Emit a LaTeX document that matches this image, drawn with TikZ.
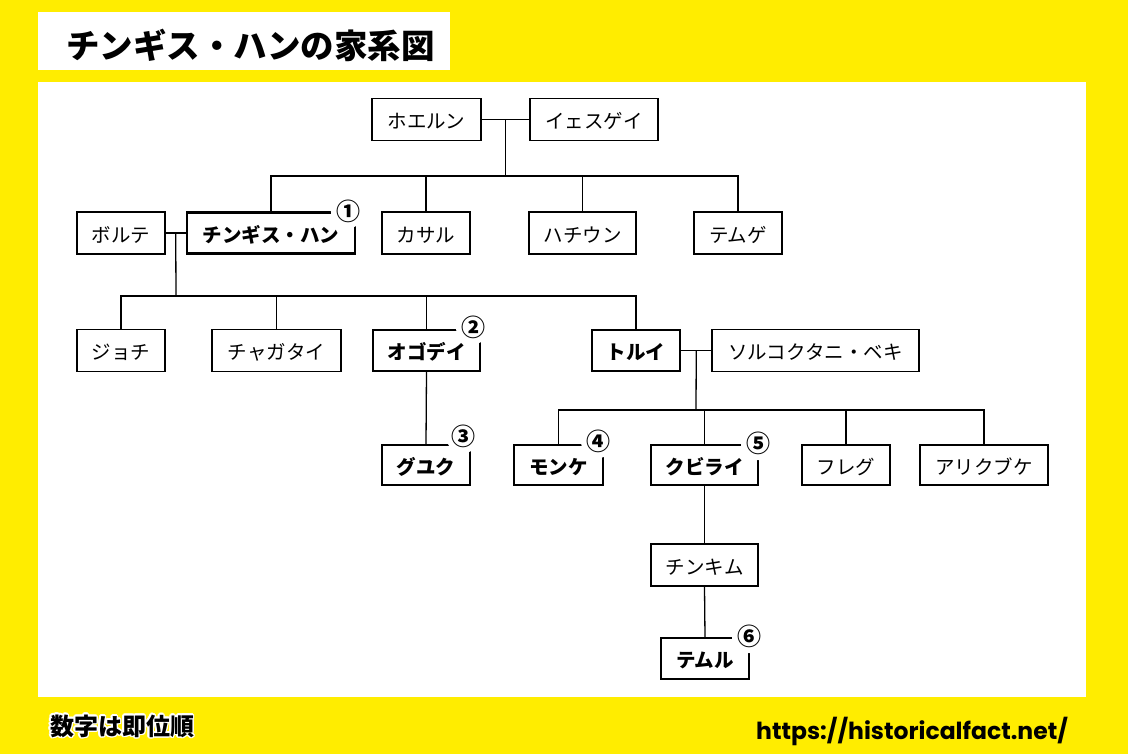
\documentclass[tikz,border=0pt]{standalone}
\usepackage{fontspec}
\usepackage{contour}
\newfontfamily\jp{Noto Sans CJK JP}
\newfontfamily\urlfont{Poppins}
\usetikzlibrary{calc}
\definecolor{ybg}{RGB}{255,237,0}
\contourlength{1.6pt}
\tikzset{
  box/.style={draw, line width=1.3pt, fill=white, inner sep=0pt, minimum height=42pt,
    text height=18.5pt, text depth=0pt,
    font=\jp\fontsize{19.5}{19.5}\selectfont},
  bbox/.style={box, line width=2.4pt, minimum height=41pt, font=\jp\bfseries\fontsize{19.5}{19.5}\selectfont},
  conn/.style={line width=1.3pt},
  circnum/.style={fill=white, inner sep=0.4pt, circle, font=\jp\bfseries\fontsize{24}{24}\selectfont}
}
\begin{document}
\begin{tikzpicture}[x=1pt,y=-1pt]
\useasboundingbox (0,0) rectangle (1128,754);
\fill[ybg] (0,0) rectangle (1128,754);
\fill[white] (38,12) rectangle (450,70);
\fill[white] (38,82) rectangle (1086,697);
\node[anchor=west, inner sep=0, font=\jp\bfseries\fontsize{33.5}{33.5}\selectfont] (title) at (66,45) {チンギス・ハンの家系図};

% generation 0
\node[box, minimum width=109pt] (hoelun) at (426.5,119.5) {ホエルン};
\node[box, minimum width=128pt] (yesugei) at (594,119.5) {イェスゲイ};
% generation 1
\node[box, minimum width=88pt] (borte) at (121,233) {ボルテ};
\node[bbox, minimum width=168pt] (chinggis) at (271,233) {チンギス・ハン};
\node[box, minimum width=88pt] (kasar) at (426,233) {カサル};
\node[box, minimum width=107pt] (hachiun) at (582.5,233) {ハチウン};
\node[box, minimum width=88pt] (temuge) at (738,233) {テムゲ};
% generation 2
\node[box, minimum width=88pt] (jochi) at (121,350.5) {ジョチ};
\node[box, minimum width=129pt] (chagatai) at (276.5,350.5) {チャガタイ};
\node[bbox, minimum width=107pt] (ogedei) at (426.5,350.5) {オゴデイ};
\node[bbox, minimum width=88pt] (tolui) at (636,350.5) {トルイ};
\node[box, minimum width=207pt] (sorghaghtani) at (815.5,350.5) {ソルコクタニ・ベキ};
% generation 3
\node[bbox, minimum width=88pt, minimum height=40pt] (guyuk) at (426,465) {グユク};
\node[bbox, minimum width=89pt, minimum height=40pt] (mongke) at (558.5,465) {モンケ};
\node[bbox, minimum width=107pt, minimum height=40pt] (kublai) at (704.5,465) {クビライ};
\node[box, minimum width=88pt, minimum height=40pt] (hulagu) at (846,465) {フレグ};
\node[box, minimum width=128pt, minimum height=40pt] (ariqboke) at (984,465) {アリクブケ};
% generation 4, 5
\node[box, minimum width=107pt] (zhenjin) at (704.5,565) {チンキム};
\node[bbox, minimum width=88pt] (temur) at (705,658.5) {テムル};

% connectors
\coordinate (m0) at ($(hoelun.east)!0.5!(yesugei.west)$);
\coordinate (j0) at (505.5,176);
\draw[conn] (hoelun.east) -- (yesugei.west);
\draw[conn] (m0) -- (j0);
\draw[conn] (chinggis.north) -- (chinggis.north |- j0) -- (temuge.north |- j0) -- (temuge.north);
\draw[conn] (kasar.north) -- (kasar.north |- j0);
\draw[conn] (hachiun.north) -- (hachiun.north |- j0);

\coordinate (m1) at ($(borte.east)!0.5!(chinggis.west)$);
\coordinate (j1) at (176,296);
\draw[conn] (borte.east) -- (chinggis.west);
\draw[conn] (m1) -- (j1);
\draw[conn] (jochi.north) -- (jochi.north |- j1) -- (tolui.north |- j1) -- (tolui.north);
\draw[conn] (chagatai.north) -- (chagatai.north |- j1);
\draw[conn] (ogedei.north) -- (ogedei.north |- j1);

\draw[conn] (ogedei.south) -- (guyuk.north);

\coordinate (m2) at ($(tolui.east)!0.5!(sorghaghtani.west)$);
\coordinate (j2) at (696,410);
\draw[conn] (tolui.east) -- (sorghaghtani.west);
\draw[conn] (m2) -- (j2);
\draw[conn] (mongke.north) -- (mongke.north |- j2) -- (ariqboke.north |- j2) -- (ariqboke.north);
\draw[conn] (kublai.north) -- (kublai.north |- j2);
\draw[conn] (hulagu.north) -- (hulagu.north |- j2);

\draw[conn] (kublai.south) -- (zhenjin.north);
\draw[conn] (zhenjin.south) -- (temur.north);

% accession order
\node[circnum] (c1) at (348,211) {①};
\node[circnum] (c2) at (473,327) {②};
\node[circnum] (c3) at (463,436) {③};
\node[circnum] (c4) at (598,441) {④};
\node[circnum] (c5) at (758,443) {⑤};
\node[circnum] (c6) at (749,636) {⑥};

% footer
\node[anchor=west, inner sep=0, font=\jp\bfseries\fontsize{24}{24}\selectfont] (note) at (50,727) {\contour{white}{数字は即位順}};
\node[anchor=west, inner sep=0, font=\urlfont\bfseries\fontsize{23.5}{23.5}\selectfont] (url) at (756,731) {https://historicalfact.net/};
\end{tikzpicture}
\end{document}
